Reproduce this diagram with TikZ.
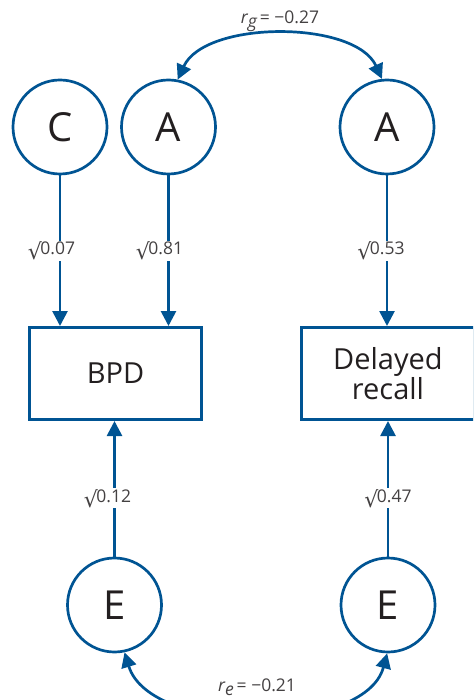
\documentclass[tikz,border=0pt]{standalone}
\usepackage{fontspec}
\setmainfont{Open Sans}
\newfontfamily\symfont{DejaVu Sans}
\usetikzlibrary{arrows.meta}
\definecolor{dblue}{RGB}{0,84,147}
\definecolor{txt}{RGB}{35,31,32}
\newcommand\sqlab[1]{{\symfont\fontsize{22}{22}\selectfont\raisebox{-5pt}{√}}\kern-1.5pt#1}
\begin{document}
\begin{tikzpicture}[x=1pt,y=-1pt,
  latent/.style={circle,draw=dblue,line width=2.7pt,minimum size=94pt,inner sep=0pt,
    font=\fontsize{40}{40}\selectfont,text=txt},
  obs/.style={rectangle,draw=dblue,line width=2.7pt,minimum height=92.3pt,inner sep=0pt,
    align=center,font=\fontsize{29}{30}\selectfont,text=txt},
  pth/.style={draw=dblue,line width=2.7pt,-{Triangle[width=15pt,length=15pt]}},
  dpth/.style={draw=dblue,line width=2.7pt,{Triangle[width=15pt,length=15pt]}-{Triangle[width=15pt,length=15pt]}},
  lbl/.style={fill=white,inner sep=1pt,font=\fontsize{17.5}{18}\selectfont,text=txt!85}]
\useasboundingbox (0,0) rectangle (473,700);
\clip (0,0) rectangle (473,700);
\node[latent] (C) at (60,127) {C};
\node[latent] (A1) at (168.5,127) {A};
\node[latent] (A2) at (387,127) {A};
\node[obs,minimum width=172.3pt] (BPD) at (115.5,373.5) {BPD};
\node[obs,minimum width=173.3pt] (DR) at (388,373.5) {Delayed\\recall};
\node[latent] (E1) at (114.5,605) {E};
\node[latent] (E2) at (388,605) {E};
\coordinate (c1) at (C.south |- BPD.north);
\coordinate (a1) at (A1.south |- BPD.north);
\coordinate (a2) at (A2.south |- DR.north);
\coordinate (e1) at (E1.north |- BPD.south);
\coordinate (e2) at (E2.north |- DR.south);
\draw[pth] (C.south) -- node[lbl,pos=0.5,xshift=-8.5pt]{\sqlab{0.07}} (c1);
\draw[pth] (A1.south) -- node[lbl,pos=0.5,xshift=-9pt]{\sqlab{0.81}} (a1);
\draw[pth] (A2.south) -- node[lbl,pos=0.5,xshift=-6pt]{\sqlab{0.53}} (a2);
\draw[pth] (E1.north) -- node[lbl,pos=0.43,xshift=-7pt]{\sqlab{0.12}} (e1);
\draw[pth] (E2.north) -- node[lbl,pos=0.43]{\sqlab{0.47}} (e2);
\draw[dpth] (A1.79) .. controls (205,20) and (355,20) .. (A2.96)
  node[lbl,fill=none,midway,yshift=14pt]{{\itshape r}\raisebox{-4pt}{\itshape g}\,= \textminus0.27};
\draw[dpth] (E1.282) .. controls (150,736) and (365,736) .. (E2.269)
  node[lbl,fill=none,midway,yshift=28pt]{{\itshape r}\raisebox{-4pt}{\itshape e}\,= \textminus0.21};
\end{tikzpicture}
\end{document}
